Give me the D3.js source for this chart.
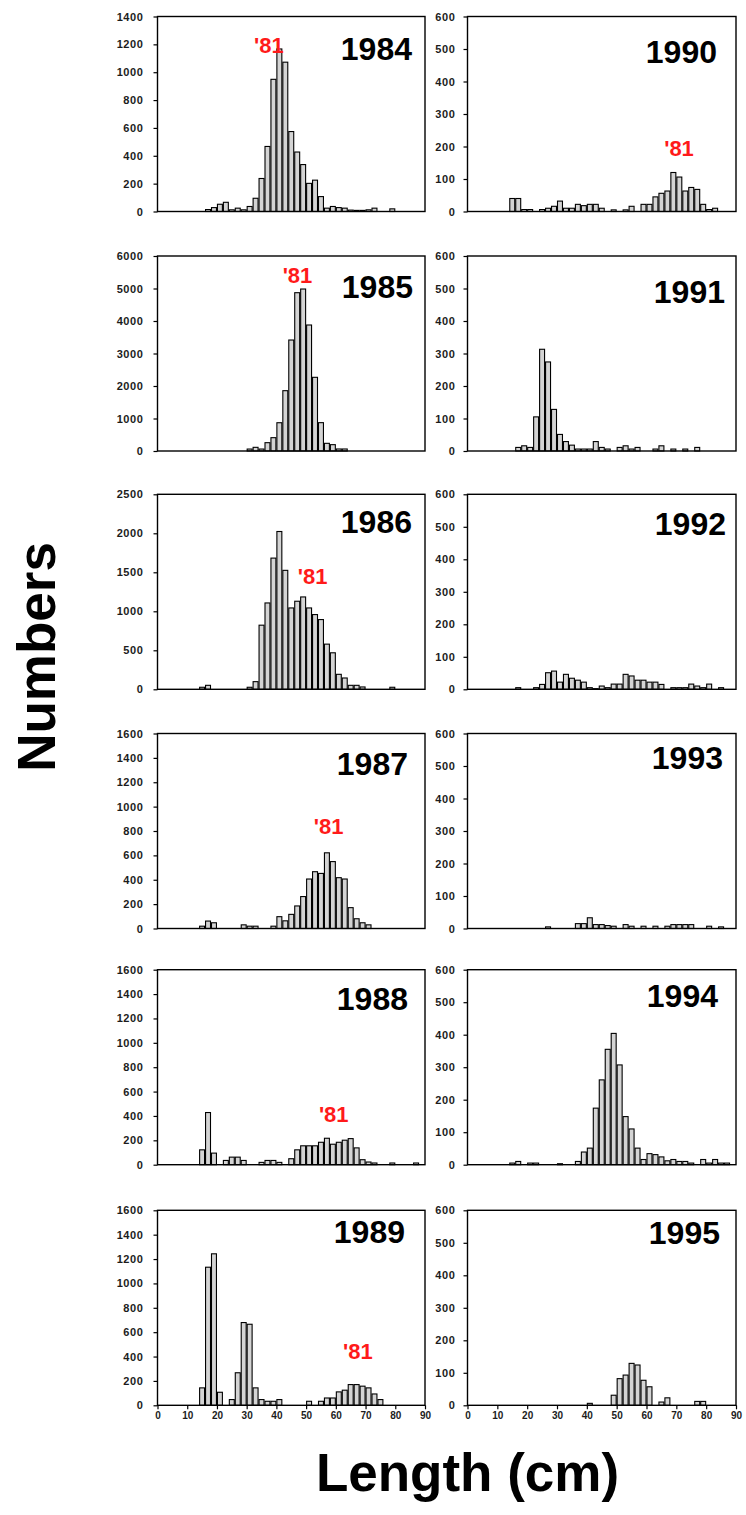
<!DOCTYPE html>
<html lang="en">
<head>
<meta charset="UTF-8">
<title>Length frequencies 1984-1995</title>
<style>
  body { margin: 0; background: #fff; }
  svg text { font-family: "Liberation Sans", Arial, sans-serif; }
</style>
</head>
<body>
<div id="chart"></div>
<script src="https://cdn.jsdelivr.net/npm/d3@7/dist/d3.min.js"></script>
<script>
// 2 cm length classes (lower bound, cm)
const binStarts = [0,2,4,6,8,10,12,14,16,18,20,22,24,26,28,30,32,34,36,38,40,42,44,46,48,50,52,54,56,58,60,62,64,66,68,70,72,74,76,78,80,82,84,86,88]
const lengthTicks = [0,10,20,30,40,50,60,70,80,90]

const years = [1984,1985,1986,1987,1988,1989,1990,1991,1992,1993,1994,1995]

// numbers at length, one value per 2 cm class
const n1984 = [0,0,0,0,0,0,0,0,14,28,52,66,12,24,12,36,95,237,467,949,1167,1072,574,427,337,202,225,107,24,36,28,24,10,8,8,12,24,0,0,19,0,0,0,0,0]
const n1985 = [0,0,0,0,0,0,0,0,0,0,0,0,0,0,0,60,113,60,256,410,870,1856,3415,4871,4984,3877,2267,872,236,195,62,62,0,0,0,0,0,0,0,0,0,0,0,0,0]
const n1986 = [0,0,0,0,0,0,0,26,51,0,0,0,0,0,0,26,98,822,1107,1682,2023,1525,1043,1129,1184,1043,958,894,579,468,192,145,51,51,30,0,0,0,0,26,0,0,0,0,0]
const n1987 = [0,0,0,0,0,0,0,19,61,47,0,0,0,0,30,19,19,0,0,19,97,63,116,185,262,406,466,452,621,549,417,406,171,80,47,30,0,0,0,0,0,0,0,0,0]
const n1988 = [0,0,0,0,0,0,0,122,428,95,0,35,62,62,35,0,0,19,35,35,19,0,49,122,155,155,155,184,217,168,184,201,214,138,41,22,14,0,0,14,0,0,0,14,0]
const n1989 = [0,0,0,0,0,0,0,143,1133,1243,107,0,47,267,679,665,143,47,33,33,47,0,0,0,0,33,0,33,60,60,110,124,170,170,157,143,93,47,0,0,0,0,0,0,0]
const n1990 = [0,0,0,0,0,0,0,40,40,6,6,0,6,10,16,32,10,10,22,18,22,22,10,0,5,0,5,16,0,22,22,45,56,63,120,106,63,74,68,22,6,10,0,0,0]
const n1991 = [0,0,0,0,0,0,0,0,11,16,11,105,313,274,128,51,29,18,6,6,6,29,11,6,0,11,16,6,11,0,0,6,16,0,6,0,6,0,11,0,0,0,0,0,0]
const n1992 = [0,0,0,0,0,0,0,0,5,0,0,5,15,51,56,22,46,34,28,22,5,2,10,5,16,16,46,41,28,28,22,22,15,0,5,5,5,16,10,5,16,0,5,0,0]
const n1993 = [0,0,0,0,0,0,0,0,0,0,0,0,0,5,0,0,0,0,15,15,33,12,12,9,7,0,12,7,0,7,0,7,0,7,12,12,12,12,0,0,7,0,5,0,0]
const n1994 = [0,0,0,0,0,0,0,5,10,0,5,5,0,0,0,3,0,0,10,39,51,174,261,355,404,307,148,110,51,16,34,31,24,12,16,10,10,5,0,16,5,16,5,5,0]
const n1995 = [0,0,0,0,0,0,0,0,0,0,0,0,0,0,0,0,0,0,0,0,6,0,0,0,31,82,93,129,124,77,57,0,10,23,0,0,0,0,12,12,0,0,0,0,0]

// y-axis tick labels
const ticks1400 = [0,200,400,600,800,1000,1200,1400]
const ticks6000 = [0,1000,2000,3000,4000,5000,6000]
const ticks2500 = [0,500,1000,1500,2000,2500]
const ticks1600 = [0,200,400,600,800,1000,1200,1400,1600]
const ticks600 = [0,100,200,300,400,500,600]

// 1981 year-class marker: [length cm, number] in each panel's data space
const cohortText = "'81"
const cohortAt = {
  1984: [37.5, 1141], 1985: [47.1, 5178], 1986: [52.2, 1350],
  1987: [57.6, 778], 1988: [59.3, 353], 1989: [67.4, 377], 1990: [70.9, 172]
}

const series = [n1984, n1985, n1986, n1987, n1988, n1989, n1990, n1991, n1992, n1993, n1994, n1995]
const tickSets = [ticks1400, ticks6000, ticks2500, ticks1600, ticks1600, ticks1600,
                  ticks600, ticks600, ticks600, ticks600, ticks600, ticks600]

// layout
const colLeft = [157.5, 467.5]
const colRight = [425, 736]
const rowTop = [16.5, 256, 494.3, 733.5, 969.7, 1210.3]
const plotH = 195
// year label: [offset from right edge, baseline below top]
const yearPos = [[13, 43], [12, 42], [13, 39], [17, 41], [17, 40], [20, 33],
                 [19, 46], [11, 47], [10, 41], [13, 35], [18, 37], [16, 34]]

const svg = d3.select('#chart')
    .append('svg')
    .attr('width', 746)
    .attr('height', 1515)

years.forEach(function (year, i) {
    const col = i < 6 ? 0 : 1
    const row = i % 6
    const ticks = tickSets[i]
    const yMax = ticks[ticks.length - 1]

    const x = d3.scaleLinear().domain([0, 90]).range([colLeft[col], colRight[col]])
    const y = d3.scaleLinear().domain([0, yMax]).range([rowTop[row] + plotH, rowTop[row]])
    const bw = x(2) - x(0)

    const g = svg.append('g').attr('class', 'panel')

    // bars
    const data = binStarts.map((b, k) => ({ b: b, v: series[i][k] })).filter(d => d.v > 0)
    g.selectAll('rect.bar')
        .data(data)
        .enter()
        .append('rect')
        .attr('class', 'bar')
        .attr('x', d => x(d.b) + 0.5)
        .attr('width', bw - 1)
        .attr('y', d => y(d.v))
        .attr('height', d => y(0) - y(d.v))
        .attr('fill', '#d4d4d4')
        .attr('stroke', '#000')
        .attr('stroke-width', 1.1)

    // frame
    g.append('rect')
        .attr('x', x(0))
        .attr('y', y(yMax))
        .attr('width', x(90) - x(0))
        .attr('height', y(0) - y(yMax))
        .attr('fill', 'none')
        .attr('stroke', '#000')
        .attr('stroke-width', 1.4)

    // y axis
    const yAxis = d3.axisLeft(y)
        .tickValues(ticks)
        .tickFormat(d3.format('d'))
        .tickSize(4)
        .tickPadding(col === 0 ? 10 : 8)
    const ya = g.append('g')
        .attr('transform', 'translate(' + x(0) + ',0)')
        .call(yAxis)
    ya.select('.domain').remove()
    ya.selectAll('line').attr('stroke', '#000').attr('stroke-width', 1.2)
    ya.selectAll('text')
        .attr('fill', '#1c1c1c')
        .style('font-size', '11px')
        .style('font-weight', 'bold')
        .style('letter-spacing', '0.6px')

    // x axis only on the bottom row
    if (row === 5) {
        const xa = g.append('g')
            .attr('transform', 'translate(0,' + y(0) + ')')
            .call(d3.axisBottom(x).tickValues(lengthTicks).tickSize(4).tickPadding(3))
        xa.select('.domain').remove()
        xa.selectAll('line').attr('stroke', '#000').attr('stroke-width', 1.2)
        xa.selectAll('text')
            .attr('fill', '#1c1c1c')
            .style('font-size', '10px')
            .style('font-weight', 'bold')
    }

    // year
    g.append('text')
        .text(year)
        .attr('x', x(90) - yearPos[i][0])
        .attr('y', y(yMax) + yearPos[i][1])
        .attr('text-anchor', 'end')
        .style('font-size', '32px')
        .style('font-weight', 'bold')
        .attr('fill', '#000')

    // 1981 cohort
    if (cohortAt[year]) {
        g.append('text')
            .text(cohortText)
            .attr('x', x(cohortAt[year][0]))
            .attr('y', y(cohortAt[year][1]))
            .attr('text-anchor', 'middle')
            .style('font-size', '22px')
            .style('font-weight', 'bold')
            .attr('fill', '#ff1a1a')
    }
})

// axis titles
svg.append('text')
    .text('Numbers')
    .attr('transform', 'translate(55,657) rotate(-90)')
    .attr('text-anchor', 'middle')
    .style('font-size', '53px')
    .style('font-weight', 'bold')

svg.append('text')
    .text('Length (cm)')
    .attr('x', 467.5)
    .attr('y', 1491)
    .attr('text-anchor', 'middle')
    .style('font-size', '53px')
    .style('font-weight', 'bold')
</script>
</body>
</html>
